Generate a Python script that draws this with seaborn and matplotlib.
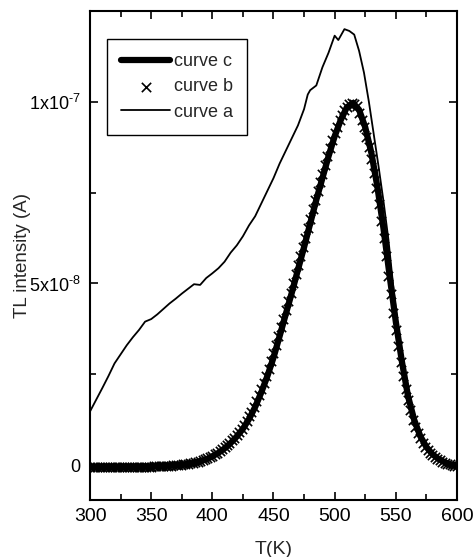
import numpy as np
import pandas as pd
import matplotlib
matplotlib.use('Agg')
import matplotlib.pyplot as plt
import seaborn as sns
from matplotlib.ticker import FixedLocator, FixedFormatter, MultipleLocator

sns.set_style('ticks')
plt.rcParams['font.family'] = ['Liberation Sans', 'DejaVu Sans']
plt.rcParams['mathtext.fontset'] = 'custom'
plt.rcParams['mathtext.rm'] = 'Liberation Sans'
plt.rcParams['mathtext.it'] = 'Liberation Sans'

# ---- data (TL intensity in units of 1e-8 A) ----
# curve a : measured glow curve
a_T = [300, 305, 310, 315, 320, 325, 330, 335, 340, 345, 350, 355, 360, 365, 370,
       375, 380, 385, 390, 395, 400, 405, 410, 415, 420, 425, 430, 435, 440, 445,
       450, 455, 460, 465, 470, 475, 478, 480, 485, 490, 495, 500, 503, 508, 512,
       516, 520, 524, 528, 532, 536, 540, 544, 548, 552, 556, 560, 565, 570, 575,
       580, 585, 590, 595, 600]
a_I = [1.48, 1.8, 2.12, 2.45, 2.8, 3.05, 3.3, 3.52, 3.72, 3.95, 4.02, 4.15, 4.3, 4.45, 4.58,
       4.72, 4.85, 4.98, 4.96, 5.15, 5.28, 5.42, 5.6, 5.85, 6.05, 6.3, 6.6, 6.85, 7.2, 7.55,
       7.9, 8.3, 8.65, 9.0, 9.35, 9.8, 10.2, 10.32, 10.45, 10.95, 11.35, 11.82, 11.7, 12.0, 11.95,
       11.85, 11.4, 10.8, 10.0, 9.1, 8.2, 7.25, 6.2, 4.9, 3.7, 2.7, 1.95, 1.28, 0.82, 0.52,
       0.31, 0.17, 0.08, 0.02, -0.02]

# curve c : fitted curve
c_T = list(range(300, 601, 5))
c_I = [-0.05, -0.05, -0.05, -0.05, -0.05, -0.05, -0.05, -0.05, -0.04, -0.04,
       -0.04, -0.03, -0.02, -0.01, 0.0, 0.01, 0.03, 0.06, 0.1, 0.16,
       0.24, 0.34, 0.46, 0.61, 0.79, 1.0, 1.27, 1.6, 2.0, 2.45,
       2.96, 3.55, 4.15, 4.75, 5.38, 6.0, 6.65, 7.3, 7.9, 8.5,
       9.05, 9.5, 9.85, 9.97, 9.78, 9.3, 8.6, 7.65, 6.5, 5.2,
       3.95, 2.85, 1.9, 1.25, 0.8, 0.5, 0.3, 0.17, 0.08, 0.02, -0.02]

# curve b : points (every 2 K)
b_T = list(range(300, 601, 2))
b_I = [-0.05, -0.05, -0.05, -0.05, -0.05, -0.05, -0.05, -0.05, -0.05, -0.05,
       -0.05, -0.05, -0.05, -0.05, -0.05, -0.05, -0.05, -0.05, -0.05, -0.04,
       -0.04, -0.04, -0.04, -0.04, -0.04, -0.04, -0.03, -0.03, -0.03, -0.02,
       -0.02, -0.01, -0.01, -0.01, 0.0, 0.0, 0.0, 0.01, 0.02, 0.03,
       0.04, 0.05, 0.06, 0.08, 0.09, 0.11, 0.14, 0.16, 0.19, 0.22,
       0.26, 0.30, 0.34, 0.39, 0.44, 0.49, 0.55, 0.61, 0.68, 0.75,
       0.83, 0.92, 1.0, 1.11, 1.22, 1.34, 1.47, 1.6, 1.76, 1.92,
       2.09, 2.27, 2.45, 2.65, 2.86, 3.08, 3.31, 3.55, 3.79, 4.03,
       4.27, 4.51, 4.75, 5.0, 5.25, 5.5, 5.75, 6.0, 6.26, 6.52,
       6.78, 7.04, 7.3, 7.54, 7.78, 8.02, 8.26, 8.5, 8.72, 8.94,
       9.14, 9.32, 9.5, 9.64, 9.78, 9.87, 9.94, 9.98, 9.95, 9.88,
       9.7, 9.5, 9.3, 9.03, 8.75, 8.42, 8.03, 7.63, 7.18, 6.72,
       6.25, 5.75, 5.2, 4.7, 4.2, 3.72, 3.28, 2.85, 2.45, 2.1,
       1.8, 1.52, 1.25, 1.06, 0.89, 0.74, 0.62, 0.5, 0.42, 0.34,
       0.27, 0.22, 0.17, 0.13, 0.10, 0.07, 0.04, 0.02, 0.0, -0.01,
       -0.02]

df_a = pd.DataFrame({'T': a_T, 'I': np.array(a_I) * 1e-8})
df_b = pd.DataFrame({'T': b_T, 'I': np.array(b_I) * 1e-8})
df_c = pd.DataFrame({'T': c_T, 'I': np.array(c_I) * 1e-8})

fig = plt.figure(figsize=(4.74, 5.57), dpi=100)
ax = fig.add_axes([0.19, 0.1023, 0.774, 0.878])

sns.lineplot(data=df_a, x='T', y='I', color='black', lw=1.3, label='curve a', ax=ax)
sns.scatterplot(data=df_b, x='T', y='I', color='black', marker='x', s=45,
                linewidth=1.2, label='curve b', ax=ax, zorder=3)
sns.lineplot(data=df_c, x='T', y='I', color='black', lw=4.5, label='curve c', ax=ax, zorder=2)

ax.set_xlim(300, 600)
ax.set_ylim(-0.96e-8, 1.25e-7)

ax.xaxis.set_major_locator(MultipleLocator(50))
ax.xaxis.set_minor_locator(MultipleLocator(25))
ax.yaxis.set_major_locator(FixedLocator([0, 5e-8, 1e-7]))
ax.yaxis.set_major_formatter(FixedFormatter(['0', '5x10$^{\\text{-8}}$', '1x10$^{\\text{-7}}$']))
ax.yaxis.set_minor_locator(MultipleLocator(2.5e-8))

ax.tick_params(which='both', direction='in', top=True, right=True,
               colors='black', width=1.2)
ax.tick_params(axis='x', labelsize=14)
ax.tick_params(axis='y', labelsize=13)
ax.tick_params(which='major', length=6, pad=6)
ax.tick_params(which='minor', length=4)
ax.tick_params(axis='y', which='major', pad=7)
for s in ax.spines.values():
    s.set_linewidth(1.5)
    s.set_color('black')

ax.set_xlabel('T(K)', fontsize=14, labelpad=11)
ax.set_ylabel('TL intensity (A)', fontsize=13.5)
ax.yaxis.set_label_coords(-0.16, 0.5)

h, l = ax.get_legend_handles_labels()
order = [l.index('curve c'), l.index('curve b'), l.index('curve a')]
leg = ax.legend([h[i] for i in order], [l[i] for i in order],
                loc='upper left', bbox_to_anchor=(0.046, 0.943), borderaxespad=0,
                fontsize=13, handlelength=2.7, handletextpad=0.2,
                labelspacing=0.45, borderpad=0.8, fancybox=False,
                frameon=True, edgecolor='black', framealpha=1)
leg.get_frame().set_linewidth(1.0)

plt.savefig('out.png', dpi=100)
